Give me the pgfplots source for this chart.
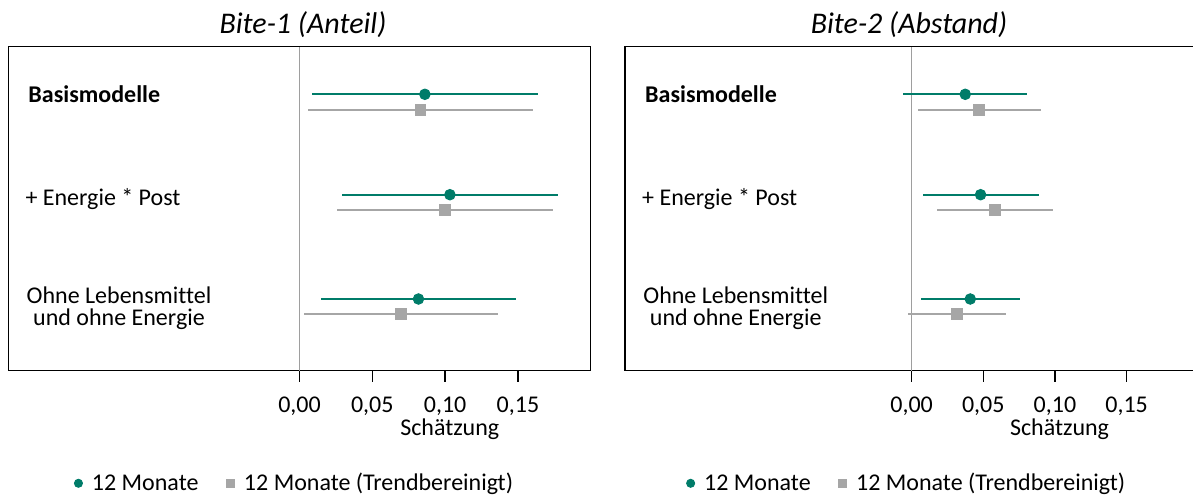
\documentclass[border=0pt]{standalone}
\usepackage{pgfplots}
\usepackage{pgfplotstable}
\pgfplotsset{compat=1.18}
\usepackage{fontspec}
\setmainfont{Carlito}[Ligatures=NoCommon]
\definecolor{tealg}{HTML}{007C69}
\definecolor{grayb}{HTML}{A6A6A6}
\definecolor{zerog}{HTML}{9E9E9E}

% est = Schätzung, lo/hi = Konfidenzintervall, y = Zeilenposition
\pgfplotstableread{
est    lo      hi      y
0.0861 0.0085  0.1637  2.764
0.1033 0.0291  0.1772  1.760
0.0817 0.0149  0.1484  0.717
}\leftgreen
\pgfplotstableread{
est    lo      hi      y
0.0831 0.0057  0.1605  2.610
0.1001 0.0259  0.1740  1.607
0.0698 0.0032  0.1365  0.564
}\leftgray
\pgfplotstableread{
est    lo      hi      y
0.0374 -0.0059 0.0802  2.764
0.0481 0.0077  0.0886  1.760
0.0409 0.0065  0.0753  0.717
}\rightgreen
\pgfplotstableread{
est    lo      hi      y
0.0472 0.0042  0.0904  2.610
0.0584 0.0177  0.0988  1.607
0.0318 -0.0028 0.0660  0.564
}\rightgray

\newcommand{\fs}{\fontsize{9.6}{11.5}\selectfont}
\pgfplotsset{
  forest/.style={
    scale only axis, width=232.96pt, height=129.6pt,
    xmin=-0.2, xmax=0.2, ymin=0, ymax=3.24,
    axis line style={line width=0.6pt, black},
    ytick=\empty,
    xtick={0,0.05,0.1,0.15},
    xtick pos=bottom, tick align=outside, major tick length=4.4pt,
    x tick style={line width=0.55pt, black},
    scaled x ticks=false,
    /pgf/number format/fixed, /pgf/number format/fixed zerofill,
    /pgf/number format/precision=2, /pgf/number format/use comma,
    /pgf/number format/assume math mode=true,
    xticklabel style={font=\fs, yshift=-2.4pt},
    xlabel={Schätzung},
    xlabel style={font=\fs, at={(axis description cs:0.758,-0.2015)}, anchor=base},
    clip=false,
    legend columns=2,
    legend style={draw=none, fill=none, at={(0.494,-0.347)}, anchor=center,
      font=\fs, inner sep=0pt,
      cells={anchor=base west, inner sep=0pt},
      /tikz/every even column/.append style={column sep=9pt}},
  },
  gplot/.style={only marks, mark=*, color=tealg, mark size=2.1pt,
    mark options={fill=tealg, draw=tealg},
    error bars/x dir=both, error bars/x explicit, error bars/error mark=none,
    error bars/error bar style={line width=0.85pt, tealg}},
  yplot/.style={only marks, mark=square*, color=grayb, mark size=2.15pt,
    mark options={fill=grayb, draw=grayb},
    error bars/x dir=both, error bars/x explicit, error bars/error mark=none,
    error bars/error bar style={line width=0.8pt, grayb}},
  gleg/.style={legend image code/.code={\fill[tealg] (0pt,2.7pt) circle (1.6pt); \path (-1.6pt,0pt) (3.2pt,0pt);}},
  yleg/.style={legend image code/.code={\fill[grayb] (-1.6pt,1.1pt) rectangle (1.6pt,4.3pt); \path (-1.6pt,0pt) (3.2pt,0pt);}},
}

\begin{document}
\begin{tikzpicture}[x=0.4pt,y=0.4pt]
\useasboundingbox (0,0) rectangle (1193,495);
\clip (0,0) rectangle (1193,495);

% ---------- Left panel ----------
\begin{axis}[forest, at={(3.32pt,49.72pt)}, anchor=south west]
\draw[zerog, line width=0.6pt] (axis cs:0,0) -- (axis cs:0,3.24);
\addplot+[gplot, gleg] table[x=est, y=y, x error plus expr=\thisrow{hi}-\thisrow{est}, x error minus expr=\thisrow{est}-\thisrow{lo}] {\leftgreen};
\addlegendentry{12 Monate}
\addplot+[yplot, yleg] table[x=est, y=y, x error plus expr=\thisrow{hi}-\thisrow{est}, x error minus expr=\thisrow{est}-\thisrow{lo}] {\leftgray};
\addlegendentry{12 Monate (Trendbereinigt)}
\end{axis}

% ---------- Right panel ----------
\begin{axis}[forest, width=229.3pt, at={(250pt,49.72pt)}, anchor=south west]
\draw[zerog, line width=0.6pt] (axis cs:0,0) -- (axis cs:0,3.24);
\addplot+[gplot, gleg] table[x=est, y=y, x error plus expr=\thisrow{hi}-\thisrow{est}, x error minus expr=\thisrow{est}-\thisrow{lo}] {\rightgreen};
\addlegendentry{12 Monate}
\addplot+[yplot, yleg] table[x=est, y=y, x error plus expr=\thisrow{hi}-\thisrow{est}, x error minus expr=\thisrow{est}-\thisrow{lo}] {\rightgray};
\addlegendentry{12 Monate (Trendbereinigt)}
\end{axis}

% titles
\node[anchor=base, font=\fontsize{12}{14}\selectfont\itshape, inner sep=0pt] at (303,461.7) {Bite-1 (Anteil)};
\node[anchor=base, font=\fontsize{12}{14}\selectfont\itshape, inner sep=0pt] at (909,461.7) {Bite-2 (Abstand)};

% row labels
\foreach \dx in {0,616.7}{
  \node[anchor=base west, inner sep=0pt, font=\fs\bfseries] at (28+\dx,392.3) {Basismodelle};
  \node[anchor=base west, inner sep=0pt, font=\fs] at (25+\dx,290) {+ Energie * Post};
  \node[anchor=base, inner sep=0pt, font=\fs] at (119+\dx,192) {Ohne Lebensmittel};
  \node[anchor=base, inner sep=0pt, font=\fs] at (119+\dx,170) {und ohne Energie};
}
\end{tikzpicture}
\end{document}
